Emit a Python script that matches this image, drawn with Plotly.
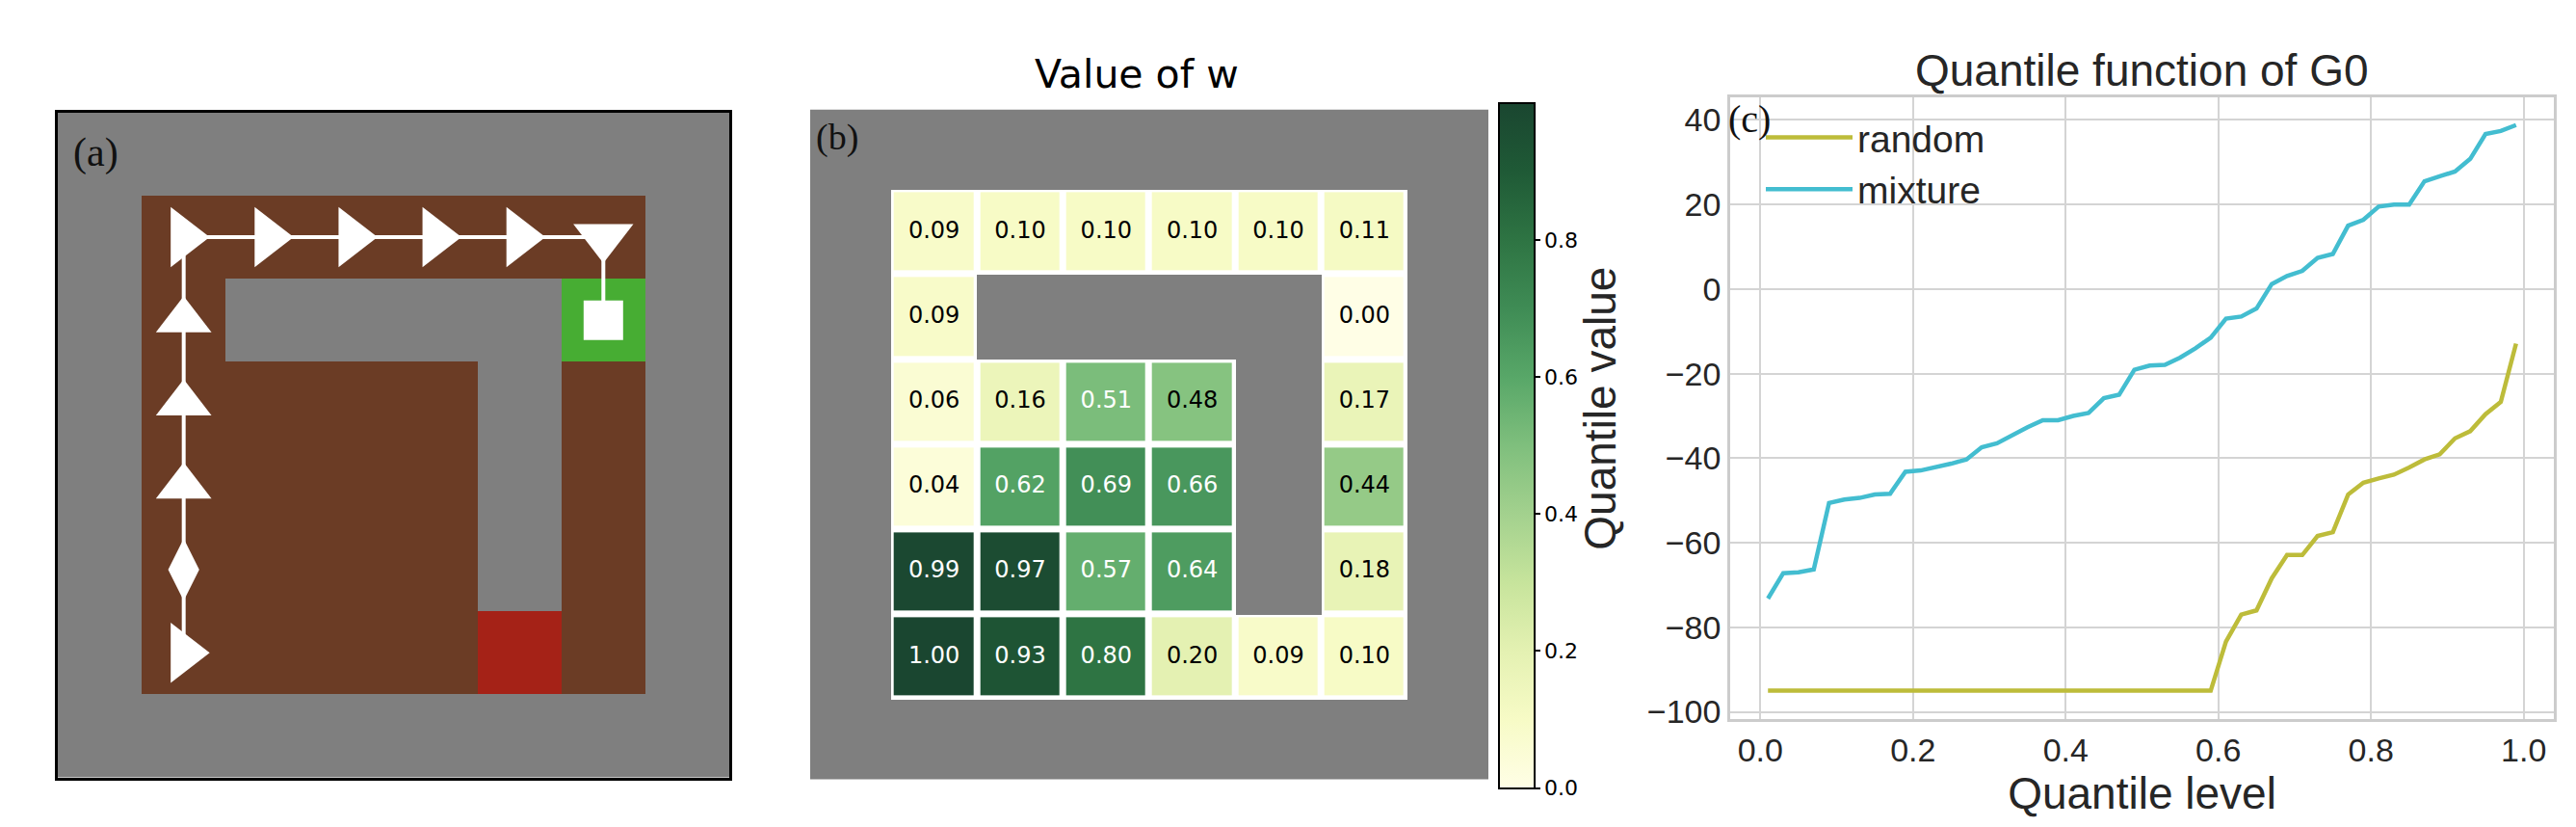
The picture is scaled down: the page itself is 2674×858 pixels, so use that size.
import plotly.graph_objects as go

# -----------------------------------------------------------------------------
# data
# -----------------------------------------------------------------------------
# inner 6x6 maze: '.' floor, 'W' wall, 'G' goal, 'R' red cell
maze = [
  '......',
  '.WWWWG',
  '....W.',
  '....W.',
  '....W.',
  '....R.',
]

# trajectory of the agent (inner grid row / col) and the action taken there
path_rows = [5, 4, 3, 2, 1, 0, 0, 0, 0, 0, 0, 1]
path_cols = [0, 0, 0, 0, 0, 0, 1, 2, 3, 4, 5, 5]
path_actions = ['right', 'stay', 'up', 'up', 'up', 'right',
                'right', 'right', 'right', 'right', 'down', 'end']

# value of w per cell (None on walls)
w_values = [
  [0.09, 0.10, 0.10, 0.10, 0.10, 0.11],
  [0.09, None, None, None, None, 0.00],
  [0.06, 0.16, 0.51, 0.48, None, 0.17],
  [0.04, 0.62, 0.69, 0.66, None, 0.44],
  [0.99, 0.97, 0.57, 0.64, None, 0.18],
  [1.00, 0.93, 0.80, 0.20, 0.09, 0.10],
]

quantile_levels = [
  0.01, 0.03, 0.05, 0.07, 0.09, 0.11, 0.13, 0.15, 0.17, 0.19,
  0.21, 0.23, 0.25, 0.27, 0.29, 0.31, 0.33, 0.35, 0.37, 0.39,
  0.41, 0.43, 0.45, 0.47, 0.49, 0.51, 0.53, 0.55, 0.57, 0.59,
  0.61, 0.63, 0.65, 0.67, 0.69, 0.71, 0.73, 0.75, 0.77, 0.79,
  0.81, 0.83, 0.85, 0.87, 0.89, 0.91, 0.93, 0.95, 0.97, 0.99,
]
q_random = [
  -95, -95, -95, -95, -95, -95, -95, -95, -95, -95,
  -95, -95, -95, -95, -95, -95, -95, -95, -95, -95,
  -95, -95, -95, -95, -95, -95, -95, -95, -95, -95,
  -83.4, -77.0, -76.0, -68.4, -62.9, -62.9, -58.4, -57.5, -48.6, -45.8,
  -44.8, -43.9, -42.2, -40.3, -39.1, -35.3, -33.6, -29.6, -26.7, -12.9,
]
q_mixture = [
  -73.2, -67.2, -67.0, -66.3, -50.6, -49.8, -49.4, -48.6, -48.4, -43.2,
  -42.9, -42.2, -41.3, -40.3, -37.4, -36.5, -34.5, -32.7, -31.0, -31.0,
  -30.0, -29.3, -25.8, -25.0, -19.1, -18.1, -17.9, -16.2, -14.0, -11.5,
  -7.0, -6.5, -4.6, 1.2, 3.1, 4.3, 7.4, 8.3, 15.0, 16.4,
  19.5, 20.0, 20.0, 25.5, 26.7, 27.8, 30.8, 36.7, 37.4, 38.8,
]

# -----------------------------------------------------------------------------
# styles
# -----------------------------------------------------------------------------
GRAY = '#7f7f7f'
BROWN = '#6b3c25'
GREEN = '#47ad33'
RED = '#a52217'
TXT = '#262626'

W, H = 2674, 858
def px_x(p): return p / W
def px_y(p): return 1 - p / H

action_symbol = {'right': 'triangle-right', 'up': 'triangle-up', 'down': 'triangle-down',
                 'stay': 'diamond-tall', 'end': 'square'}
action_size = {'right': 54, 'up': 50, 'down': 54, 'stay': 46, 'end': 41}

ylgn = [
  [0.0, '#fffee6'], [0.1, '#f7fbc6'], [0.2, '#e4f1b2'], [0.3, '#c7e49c'],
  [0.4, '#a3d18e'], [0.5, '#7fbf7d'], [0.6, '#58a768'], [0.7, '#3f8c55'],
  [0.8, '#2e7443'], [0.9, '#1f5a36'], [1.0, '#1a4630'],
]

n = len(maze)
coords = list(range(-1, n + 1))

# padded 8x8 grid codes for panel (a): 0 wall, 1 floor, 2 goal, 3 red
code = {'W': 0, '.': 1, 'G': 2, 'R': 3}
grid_a = [[0] * (n + 2)]
for row in maze:
  grid_a.append([0] + [code[c] for c in row] + [0])
grid_a.append([0] * (n + 2))

# panel (b) layers
grid_gray = [[1] * (n + 2) for _ in range(n + 2)]
grid_white = [[None] * (n + 2)]
grid_w = [[None] * (n + 2)]
for row in w_values:
  grid_white.append([None] + [1 if v is not None else None for v in row] + [None])
  grid_w.append([None] + row + [None])
grid_white.append([None] * (n + 2))
grid_w.append([None] * (n + 2))

txt_x, txt_y, txt_s, txt_c = [], [], [], []
for r, row in enumerate(w_values):
  for c, v in enumerate(row):
    if v is None:
      continue
    txt_x.append(c)
    txt_y.append(r)
    txt_s.append(f'{v:.2f}')
    txt_c.append('white' if v >= 0.5 else 'black')

fig = go.Figure()

# ---- panel (a) ---------------------------------------------------------------
fig.add_trace(go.Heatmap(
  z=grid_a, x=coords, y=coords, zmin=-0.5, zmax=3.5,
  colorscale=[[0, GRAY], [0.25, GRAY], [0.25, BROWN], [0.5, BROWN],
              [0.5, GREEN], [0.75, GREEN], [0.75, RED], [1, RED]],
  showscale=False, hoverinfo='skip', xaxis='x', yaxis='y',
))
fig.add_trace(go.Scatter(
  x=path_cols, y=path_rows, mode='lines+markers',
  line=dict(color='white', width=4),
  marker=dict(color='white', opacity=1, symbol=[action_symbol[a] for a in path_actions],
              size=[action_size[a] for a in path_actions], line=dict(width=0)),
  showlegend=False, hoverinfo='skip', xaxis='x', yaxis='y',
))

# ---- panel (b) ---------------------------------------------------------------
fig.add_trace(go.Heatmap(
  z=grid_gray, x=coords, y=coords, colorscale=[[0, GRAY], [1, GRAY]],
  showscale=False, hoverinfo='skip', xaxis='x2', yaxis='y2',
))
fig.add_trace(go.Heatmap(
  z=grid_white, x=coords, y=coords, colorscale=[[0, 'white'], [1, 'white']],
  showscale=False, hoverinfo='skip', xaxis='x2', yaxis='y2',
))
fig.add_trace(go.Heatmap(
  z=grid_w, x=coords, y=coords, zmin=0, zmax=1.0, colorscale=ylgn,
  xgap=7, ygap=7, hoverinfo='skip', xaxis='x2', yaxis='y2',
  colorbar=dict(
    x=px_x(1548), xanchor='left', xpad=0, ypad=0,
    y=px_y(460), yanchor='middle', len=720 / H, lenmode='fraction',
    thickness=37, outlinewidth=2, outlinecolor='black',
    ticks='outside', ticklen=5, tickwidth=2, tickcolor='black',
    tickvals=[0, 0.2, 0.4, 0.6, 0.8], ticktext=['0.0', '0.2', '0.4', '0.6', '0.8'],
    tickfont=dict(family='DejaVu Sans', size=22, color='black'),
  ),
))
fig.add_trace(go.Scatter(
  x=txt_x, y=txt_y, text=txt_s, mode='text',
  textfont=dict(family='DejaVu Sans', size=24, color=txt_c),
  showlegend=False, hoverinfo='skip', xaxis='x2', yaxis='y2',
))

# ---- panel (c) ---------------------------------------------------------------
fig.add_trace(go.Scatter(
  x=quantile_levels, y=q_random, mode='lines', name='random',
  line=dict(color='#bdbc3a', width=4.5), xaxis='x3', yaxis='y3',
))
fig.add_trace(go.Scatter(
  x=quantile_levels, y=q_mixture, mode='lines', name='mixture',
  line=dict(color='#43bdd0', width=4.5), xaxis='x3', yaxis='y3',
))

hidden = dict(showgrid=False, zeroline=False, showticklabels=False, ticks='')
fig.update_layout(
  width=W, height=H,
  margin=dict(l=0, r=0, t=0, b=0),
  paper_bgcolor='white', plot_bgcolor='white',
  xaxis=dict(domain=[px_x(52), px_x(749)], range=[-1.5, n + 0.5], anchor='y',
             showline=True, mirror=True, linecolor='black', linewidth=3, **hidden),
  yaxis=dict(domain=[px_y(809), px_y(110)], range=[n + 0.5, -1.5], anchor='x',
             showline=True, mirror=True, linecolor='black', linewidth=3, **hidden),
  xaxis2=dict(domain=[px_x(833), px_x(1537)], range=[-1.44, n + 0.44], anchor='y2',
              showline=False, **hidden),
  yaxis2=dict(domain=[px_y(811), px_y(107)], range=[n + 0.44, -1.44], anchor='x2',
              showline=False, **hidden),
  xaxis3=dict(
    domain=[px_x(1788), px_x(2643)], range=[-0.0395, 1.0395], anchor='y3',
    tickvals=[0, 0.2, 0.4, 0.6, 0.8, 1.0], tickformat='.1f',
    showgrid=True, gridcolor='#d4d4d4', gridwidth=2, zeroline=False,
    showline=True, mirror=True, linecolor='#cccccc', linewidth=2.5, ticks='',
    tickfont=dict(family='Liberation Sans', size=34, color=TXT),
    title=dict(text='Quantile level', font=dict(family='Liberation Sans', size=46, color=TXT),
               standoff=0),
  ),
  yaxis3=dict(
    domain=[px_y(748), px_y(94)], range=[-101.8, 45.4], anchor='x3',
    tickvals=[-100, -80, -60, -40, -20, 0, 20, 40],
    showgrid=True, gridcolor='#d4d4d4', gridwidth=2, zeroline=False,
    showline=True, mirror=True, linecolor='#cccccc', linewidth=2.5, ticks='',
    tickfont=dict(family='Liberation Sans', size=34, color=TXT),
    title=dict(text='Quantile value', font=dict(family='Liberation Sans', size=46, color=TXT),
               standoff=18),
  ),
  legend=dict(
    x=px_x(1820), xanchor='left', y=px_y(104), yanchor='top',
    bgcolor='rgba(0,0,0,0)', borderwidth=0, itemwidth=90,
    font=dict(family='Liberation Sans', size=39, color=TXT),
  ),
  annotations=[
    dict(text='Value of w', x=px_x(1172), y=px_y(70), xref='paper', yref='paper',
         showarrow=False, xanchor='center', yanchor='middle',
         font=dict(family='DejaVu Sans', size=41, color='black')),
    dict(text='Quantile function of G0', x=px_x(2215), y=px_y(66), xref='paper', yref='paper',
         showarrow=False, xanchor='center', yanchor='middle',
         font=dict(family='Liberation Sans', size=46, color=TXT)),
    dict(text='(a)', x=px_x(91), y=px_y(152), xref='paper', yref='paper',
         showarrow=False, xanchor='center', yanchor='middle',
         font=dict(family='Liberation Serif', size=42, color='#111111')),
    dict(text='(b)', x=px_x(861), y=px_y(136), xref='paper', yref='paper',
         showarrow=False, xanchor='center', yanchor='middle',
         font=dict(family='Liberation Serif', size=38, color='#111111')),
    dict(text='(c)', x=px_x(1808), y=px_y(117), xref='paper', yref='paper',
         showarrow=False, xanchor='center', yanchor='middle',
         font=dict(family='Liberation Serif', size=40, color='#111111')),
  ],
)

fig.write_html('out.html')
